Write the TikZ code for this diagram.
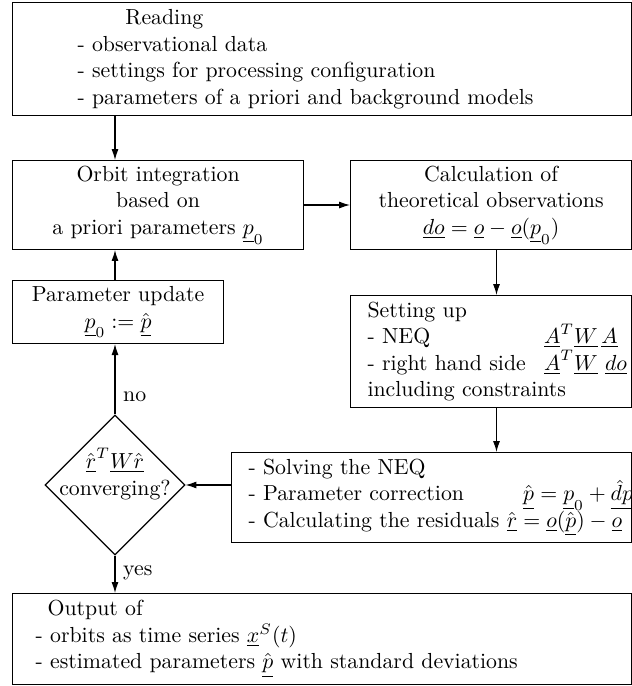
\documentclass[tikz,border=0pt]{standalone}
\usetikzlibrary{shapes.geometric,arrows.meta}
\begin{document}
\begin{tikzpicture}[x=0.4587pt,y=-0.4587pt]
\tikzset{
  every node/.style={font=\fontsize{10}{12.2}\selectfont},
  cbox/.style={draw, anchor=north west, align=center, inner sep=0pt, line width=0.5pt},
  lbox/.style={draw, anchor=north west, align=left, inner ysep=0pt, line width=0.5pt},
  arr/.style={-{Latex[length=5pt,width=3.2pt]}, line width=0.5pt},
  lbl/.style={right, xshift=3.5pt, inner sep=0pt}
}
\useasboundingbox (0,0) rectangle (632,686);

\node[lbox, inner xsep=29.8pt, text width=224.3pt, minimum height=51.8pt] (read) at (12,2)
  {\hspace*{22pt}Reading\\- observational data\\- settings for processing configuration\\- parameters of a priori and background models};

\node[cbox, minimum width=133.5pt, minimum height=40.8pt] (orbit) at (12,160)
  {Orbit integration\\based on\\a priori parameters $\underline{p}_0$};

\node[cbox, minimum width=128.9pt, minimum height=40.8pt] (calc) at (350,160)
  {Calculation of\\theoretical observations\\$\underline{do}=\underline{o}-\underline{o}(\underline{p}_0)$};

\node[lbox, inner xsep=7.8pt, text width=113.3pt, minimum height=51.4pt] (setting) at (350,295)
  {Setting up\\\mbox{\makebox[81pt][l]{- NEQ}$\underline{A}^T\underline{W}\,\underline{A}$}\\\mbox{\makebox[81pt][l]{- right hand side}$\underline{A}^T\underline{W}\ \underline{do}$}\\including constraints};

\node[cbox, minimum width=96.8pt, minimum height=28.9pt] (param) at (12,280)
  {Parameter update\\$\underline{p}_0:=\hat{\underline{p}}$};

\node[diamond, draw, line width=0.5pt, minimum width=64.2pt, minimum height=64.2pt, inner sep=0pt] (dia) at (115,485) {};
\node[align=center, inner sep=0pt] (diatext) at ([yshift=5pt]dia.center)
  {$\hat{\underline{r}}^T\underline{W}\hat{\underline{r}}$\\converging?};

\node[lbox, inner xsep=7.8pt, text width=167.9pt, minimum height=41.3pt] (solve) at (231,452)
  {- Solving the NEQ\\\mbox{\makebox[126pt][l]{- Parameter correction}$\hat{\underline{p}}=\underline{p}_0+\underline{\hat{d}p}$}\\\mbox{- Calculating the residuals $\hat{\underline{r}}=\underline{o}(\hat{\underline{p}})-\underline{o}$}};

\node[lbox, inner xsep=10.6pt, text width=262.8pt, minimum height=41.7pt] (out) at (12,593)
  {\hspace*{5.5pt}Output of\\- orbits as time series $\underline{x}^S(t)$\\- estimated parameters $\hat{\underline{p}}$ with standard deviations};

\draw[arr] (read.south -| dia.north) -- (orbit.north -| dia.north);
\draw[arr] (orbit.east) -- (calc.west);
\draw[arr] ([xshift=2.5pt]calc.south) -- ([xshift=2.5pt]setting.north);
\draw[arr] ([xshift=2.5pt]setting.south) -- ([xshift=2.5pt]setting.south |- solve.north);
\draw[arr] (solve.west |- dia.east) -- (dia.east);
\draw[arr] (dia.north) -- node[lbl, pos=0.25] (no) {no} (dia.north |- param.south);
\draw[arr] (param.north -| dia.north) -- (orbit.south -| dia.north);
\draw[arr] (dia.south) -- node[lbl, pos=0.45] (yes) {yes} (dia.south |- out.north);
\end{tikzpicture}
\end{document}
